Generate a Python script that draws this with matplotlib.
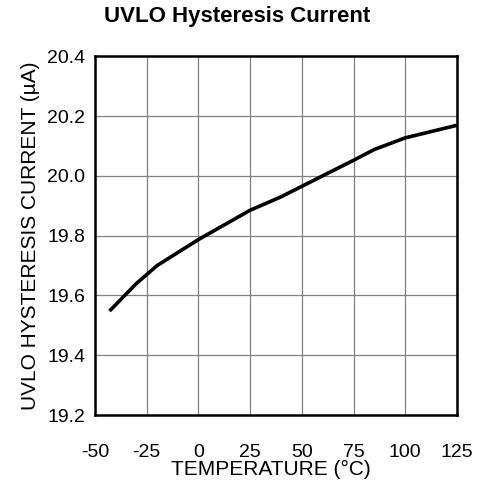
import matplotlib.pyplot as plt

plt.rcParams['font.family'] = ['Liberation Sans', 'DejaVu Sans']

temps = [-43, -30, -20, 0, 25, 40, 50, 75, 85, 100, 125]
current = [19.548, 19.64, 19.70, 19.787, 19.885, 19.93, 19.965, 20.052, 20.088, 20.127, 20.169]

xticks = [-50, -25, 0, 25, 50, 75, 100, 125]
yticks = [19.2, 19.4, 19.6, 19.8, 20.0, 20.2, 20.4]

fig = plt.figure(figsize=(4.8, 4.93), dpi=100)
ax = fig.add_axes([0.198, 0.158, 0.754, 0.728])

ax.plot(temps, current, color='black', linewidth=2.6, solid_capstyle='butt')

ax.set_xlim(-50, 125)
ax.set_ylim(19.2, 20.4)
ax.set_xticks(xticks)
ax.set_yticks(yticks)
ax.set_xticklabels([str(t) for t in xticks])
ax.set_yticklabels([f'{v:.1f}' for v in yticks])
ax.tick_params(length=0, labelsize=14)
ax.tick_params(axis='x', pad=21)
ax.tick_params(axis='y', pad=7)
ax.grid(True, color='#808080', linewidth=0.9)
for s in ax.spines.values():
    s.set_linewidth(1.8)

ax.set_xlabel('TEMPERATURE (°C)', fontsize=15, labelpad=0)
ax.xaxis.set_label_coords(0.486, -0.125)
ax.set_ylabel('UVLO HYSTERESIS CURRENT (µA)', fontsize=15, labelpad=5)
fig.text(0.495, 0.967, 'UVLO Hysteresis Current', ha='center', va='center',
         fontsize=16, fontweight='bold')

fig.savefig('out.png', dpi=100)
